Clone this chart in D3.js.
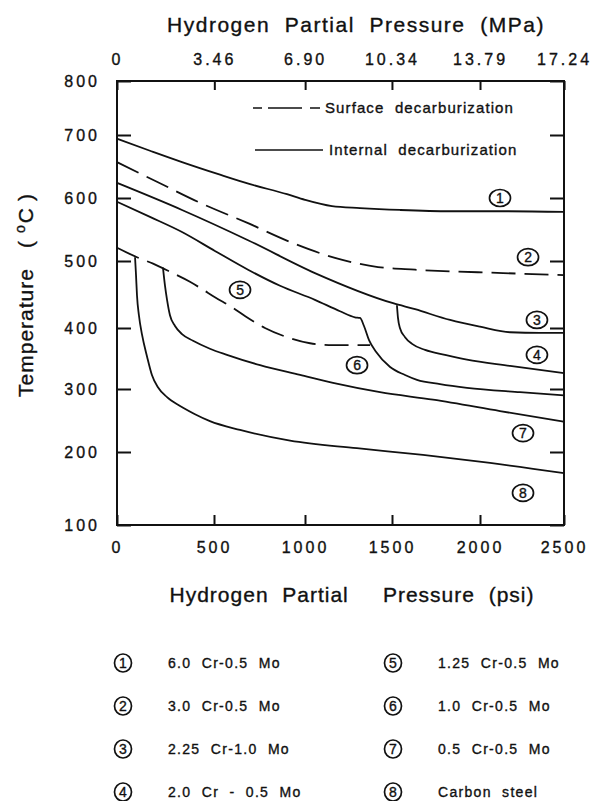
<!DOCTYPE html>
<meta charset="utf-8">
<style>
    body {margin: 0; background: #fff; font-family: 'Liberation Sans', Arial, sans-serif;}
    text {fill: #111; stroke: #111; stroke-width: 0.35px; font-family: 'Liberation Sans', Arial, sans-serif;}
</style>
<svg width="600" height="801"></svg>
<script src="https://d3js.org/d3.v7.min.js"></script>
<script>

// axis values
var psiTicks = [0, 500, 1000, 1500, 2000, 2500];
var mpaTicks = ["0", "3.46", "6.90", "10.34", "13.79", "17.24"];
var tempTicks = [100, 200, 300, 400, 500, 600, 700, 800];

// curves, [psi, degC]
var line1 = [[0,694],[170,675],[335,657],[533,637],[698,622],[901,606],[1000,597],[1155,587],[1316,584],[1545,581],[1830,579],[2119,579],[2500,578]];
var line2Dashed = [[0,657],[211,625],[417,594],[687,560],[929,529],[1172,505],[1420,491],[1631,487],[2137,482],[2500,479]];
var line3 = [[0,624],[335,581],[687,533],[1057,482],[1506,437],[1631,428],[1830,412],[2000,402],[2179,393],[2357,392],[2500,392]];
var line4 = [[1528,434],[1534,415],[1545,400],[1574,385],[1614,374],[1688,364],[1801,356],[1926,348],[2179,338],[2500,326]];
var line5 = [[0,594],[170,570],[335,546],[505,516],[687,487],[863,463],[1057,442],[1201,425],[1287,416],[1316,415],[1339,403],[1368,380],[1408,361],[1489,336],[1574,323],[1642,315],[1773,308],[1926,302],[2238,295],[2500,290]];
var line6Dashed = [[0,521],[103,506],[186,496],[273,484],[376,469],[428,460],[505,446],[604,430],[670,418],[780,400],[901,385],[1029,375],[1161,372],[1259,372],[1374,372]];
var line7 = [[237,490],[247,464],[258,442],[273,419],[299,403],[335,390],[392,379],[479,366],[571,356],[753,339],[973,323],[1161,310],[1431,295],[1733,283],[2119,265],[2500,248]];
var line8 = [[93,506],[98,479],[103,449],[113,419],[129,389],[155,353],[180,323],[211,303],[258,287],[325,273],[402,260],[479,249],[643,235],[918,218],[1298,206],[1676,196],[2060,185],[2500,171]];

// circled numbers in the plot, [number, psi, degC]
var tags = [[1,2119,600],[2,2286,506],[3,2339,412],[4,2339,356],[5,643,457],[6,1299,339],[7,2256,230],[8,2256,144]];

var steels = ["6.0  Cr-0.5  Mo", "3.0  Cr-0.5  Mo", "2.25  Cr-1.0  Mo", "2.0  Cr  -  0.5  Mo",
              "1.25  Cr-0.5  Mo", "1.0  Cr-0.5  Mo", "0.5  Cr-0.5  Mo", "Carbon  steel"];

var svg = d3.select("svg");
var MPA = 145.038;

// the scan is hand drawn, so tick spacing is not even
var x = d3.scaleLinear().domain(psiTicks).range([117, 214, 305, 392, 480, 564]);
var y = d3.scaleLinear().domain(tempTicks).range([525, 452, 389, 328, 261, 198, 135, 81]);

function styleAxis(g) {
  g.select(".domain").remove();
  g.selectAll(".tick line").attr("stroke", "#111").attr("stroke-width", 2);
  g.selectAll(".tick text")
      .style("font-size", "16px")
      .style("letter-spacing", "3px")
      .attr("fill", "#111");
}

svg.append("g").attr("transform", "translate(" + x(0) + ",0)")
    .call(d3.axisLeft(y).tickValues(tempTicks).tickSizeInner(-14).tickSizeOuter(0).tickPadding(17))
    .call(styleAxis);

svg.append("g").attr("transform", "translate(" + x(2500) + ",0)")
    .call(d3.axisRight(y).tickValues(tempTicks).tickSizeInner(-14).tickSizeOuter(0).tickFormat(""))
    .call(styleAxis);

svg.append("g").attr("transform", "translate(0," + y(100) + ")")
    .call(d3.axisBottom(x).tickValues(psiTicks).tickFormat(d3.format("d"))
        .tickSizeInner(-10).tickSizeOuter(0).tickPadding(17))
    .call(styleAxis);

svg.append("g").attr("transform", "translate(0," + y(800) + ")")
    .call(d3.axisTop(x).tickValues(mpaTicks.map(function(m) { return +m * MPA; }))
        .tickFormat(function(d, i) { return mpaTicks[i]; })
        .tickSizeInner(-9).tickSizeOuter(0).tickPadding(16))
    .call(styleAxis);

// frame
svg.append("rect")
    .attr("x", x(0)).attr("y", y(800))
    .attr("width", x(2500) - x(0)).attr("height", y(100) - y(800))
    .attr("fill", "none").attr("stroke", "#111").attr("stroke-width", 2);

// titles
svg.append("text")
    .attr("x", 356).attr("y", 32)
    .attr("text-anchor", "middle")
    .style("font-size", "21px").style("letter-spacing", "1.5px").style("white-space", "pre")
    .text("Hydrogen  Partial  Pressure  (MPa)");

svg.append("text")
    .attr("x", 352).attr("y", 602)
    .attr("text-anchor", "middle")
    .style("font-size", "21px").style("letter-spacing", "1px").style("white-space", "pre")
    .text("Hydrogen  Partial     Pressure  (psi)");

var yt = svg.append("text")
    .attr("transform", "translate(33,295) rotate(-90)")
    .attr("text-anchor", "middle")
    .style("font-size", "21px").style("letter-spacing", "1px");
yt.append("tspan").text("Temperature");
yt.append("tspan").attr("dx", 20).text("(");
yt.append("tspan").attr("dx", 7).attr("dy", -8).style("font-size", "14px").text("o");
yt.append("tspan").attr("dx", 1).attr("dy", 8).text("C");
yt.append("tspan").attr("dx", 6).text(")");

// curves
var series = [
  {pts: line1, dashed: false},
  {pts: line2Dashed, dashed: true},
  {pts: line3, dashed: false},
  {pts: line4, dashed: false},
  {pts: line5, dashed: false},
  {pts: line6Dashed, dashed: true},
  {pts: line7, dashed: false},
  {pts: line8, dashed: false}
];

var line = d3.line()
    .x(function(d) { return x(d[0]); })
    .y(function(d) { return y(d[1]); })
    .curve(d3.curveMonotoneX);

svg.append("g").selectAll("path")
    .data(series)
    .enter().append("path")
      .attr("d", function(d) { return line(d.pts); })
      .attr("fill", "none")
      .attr("stroke", "#111")
      .attr("stroke-width", 1.8)
      .attr("stroke-dasharray", function(d) { return d.dashed ? "24,9" : null; });

// in-plot key
svg.append("line").attr("x1", 253).attr("x2", 320).attr("y1", 108).attr("y2", 108)
    .attr("stroke", "#111").attr("stroke-width", 1.7).attr("stroke-dasharray", "9,6,34,8,10");
svg.append("text").attr("x", 325).attr("y", 113)
    .style("font-size", "15px").style("letter-spacing", "1.1px").style("white-space", "pre")
    .text("Surface  decarburization");
svg.append("line").attr("x1", 255).attr("x2", 323).attr("y1", 150).attr("y2", 150)
    .attr("stroke", "#111").attr("stroke-width", 1.7);
svg.append("text").attr("x", 329).attr("y", 155)
    .style("font-size", "15px").style("letter-spacing", "1.1px").style("white-space", "pre")
    .text("Internal  decarburization");

// circled numbers
var tag = svg.append("g").selectAll("g")
    .data(tags)
    .enter().append("g")
      .attr("transform", function(d) { return "translate(" + x(d[1]) + "," + y(d[2]) + ")"; });
tag.append("ellipse").attr("rx", 10.5).attr("ry", 8.5)
    .attr("fill", "#fff").attr("stroke", "#111").attr("stroke-width", 1.7);
tag.append("text").attr("text-anchor", "middle").attr("dy", "0.36em")
    .style("font-size", "14px").text(function(d) { return d[0]; });

// legend below
var key = svg.append("g").selectAll("g")
    .data(steels)
    .enter().append("g")
      .attr("transform", function(d, i) {
        return "translate(" + (i < 4 ? 123 : 393) + "," + (663 + (i % 4) * 43) + ")";
      });
key.append("ellipse").attr("rx", 8.5).attr("ry", 9)
    .attr("fill", "#fff").attr("stroke", "#111").attr("stroke-width", 1.7);
key.append("text").attr("text-anchor", "middle").attr("dy", "0.36em")
    .style("font-size", "14px").text(function(d, i) { return i + 1; });
key.append("text").attr("x", 45).attr("dy", "0.36em")
    .style("font-size", "14px").style("letter-spacing", "1.3px").style("white-space", "pre")
    .text(function(d) { return d; });

</script>
